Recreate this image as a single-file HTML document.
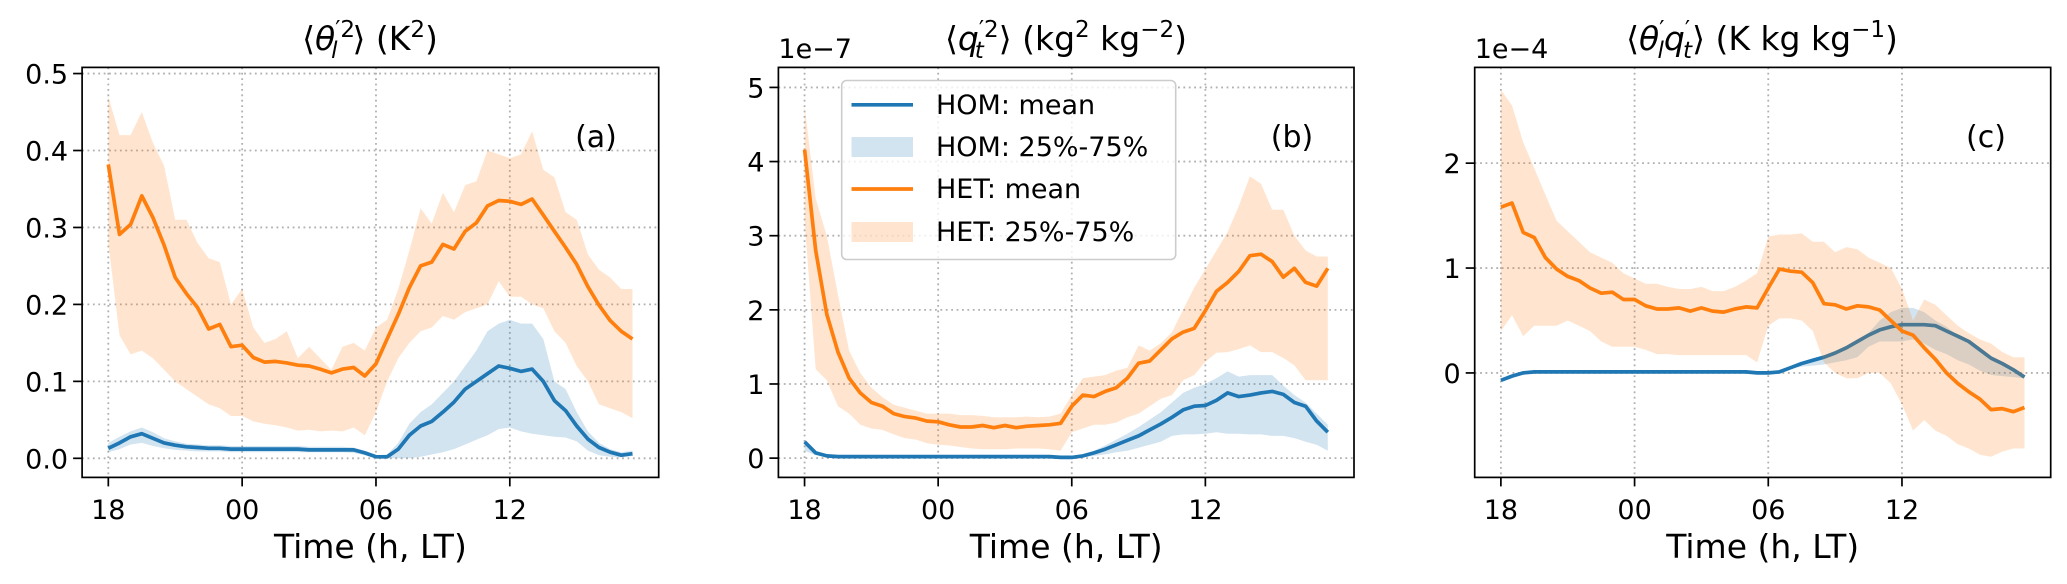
<!DOCTYPE html>
<html><head><meta charset="utf-8"><style>
html,body{margin:0;padding:0;background:#fff;}
svg{display:block;font-family:"DejaVu Sans","Liberation Sans",sans-serif;}
</style></head><body>
<svg id="fig" width="2067" height="584" viewBox="0 0 2067 584" xmlns="http://www.w3.org/2000/svg"></svg>
<script>
const times = [0,0.5,1,1.5,2,2.5,3,3.5,4,4.5,5,5.5,6,6.5,7,7.5,8,8.5,9,9.5,10,10.5,11,11.5,12,12.5,13,13.5,14,14.5,15,15.5,16,16.5,17,17.5,18,18.5,19,19.5,20,20.5,21,21.5,22,22.5,23,23.5];
const xTickHours = [0,6,12,18];
const xTickLabels = ["18","00","06","12"];

// Panel (a)
const aHetMean = [0.382,0.291,0.304,0.341,0.313,0.277,0.235,0.214,0.196,0.168,0.174,0.145,0.147,0.131,0.125,0.126,0.124,0.121,0.120,0.116,0.111,0.116,0.118,0.107,0.123,0.155,0.187,0.222,0.250,0.255,0.278,0.272,0.295,0.306,0.328,0.335,0.334,0.330,0.337,0.316,0.295,0.274,0.252,0.223,0.199,0.179,0.165,0.155];
const aHetHi = [0.47,0.42,0.42,0.45,0.41,0.38,0.31,0.31,0.28,0.26,0.255,0.2,0.22,0.17,0.15,0.155,0.165,0.13,0.145,0.13,0.115,0.145,0.15,0.14,0.17,0.18,0.22,0.27,0.325,0.305,0.345,0.32,0.355,0.36,0.4,0.395,0.39,0.395,0.425,0.375,0.365,0.32,0.31,0.265,0.245,0.235,0.22,0.22];
const aHetLo = [0.28,0.16,0.135,0.14,0.13,0.115,0.1,0.09,0.08,0.07,0.065,0.055,0.055,0.048,0.045,0.043,0.04,0.036,0.037,0.035,0.036,0.035,0.04,0.03,0.06,0.1,0.13,0.15,0.165,0.17,0.185,0.18,0.19,0.195,0.2,0.23,0.21,0.21,0.2,0.195,0.165,0.15,0.12,0.1,0.07,0.065,0.06,0.052];
const aHomMean = [0.013,0.02,0.028,0.032,0.026,0.02,0.017,0.015,0.014,0.013,0.013,0.012,0.012,0.012,0.012,0.012,0.012,0.012,0.011,0.011,0.011,0.011,0.011,0.007,0.002,0.002,0.012,0.03,0.042,0.048,0.06,0.073,0.09,0.1,0.11,0.12,0.117,0.113,0.116,0.1,0.075,0.062,0.042,0.025,0.014,0.008,0.004,0.006];
const aHomHi = [0.02,0.028,0.035,0.04,0.034,0.026,0.022,0.019,0.018,0.017,0.017,0.016,0.016,0.016,0.016,0.016,0.016,0.016,0.015,0.015,0.015,0.015,0.014,0.01,0.004,0.005,0.02,0.045,0.06,0.07,0.085,0.1,0.12,0.14,0.165,0.175,0.18,0.175,0.175,0.155,0.1,0.09,0.06,0.035,0.02,0.012,0.008,0.01];
const aHomLo = [0.008,0.012,0.018,0.02,0.016,0.013,0.011,0.01,0.009,0.009,0.009,0.008,0.008,0.008,0.008,0.008,0.008,0.008,0.008,0.008,0.008,0.008,0.007,0.004,0.0,0.0,0.0,0.0,0.002,0.005,0.008,0.012,0.018,0.024,0.03,0.038,0.04,0.035,0.032,0.03,0.028,0.027,0.022,0.01,0.004,0.002,0.001,0.003];
const aYTicks = [0,0.1,0.2,0.3,0.4,0.5];
const aYLabels = ["0.0","0.1","0.2","0.3","0.4","0.5"];

// Panel (b) (x 1e-7)
const bHetMean = [4.16,2.80,1.94,1.43,1.08,0.88,0.75,0.70,0.60,0.56,0.54,0.50,0.49,0.45,0.42,0.42,0.44,0.41,0.44,0.41,0.43,0.44,0.45,0.47,0.70,0.85,0.83,0.90,0.95,1.08,1.28,1.31,1.46,1.61,1.70,1.75,1.99,2.25,2.37,2.52,2.73,2.75,2.65,2.44,2.56,2.37,2.32,2.56];
const bHetHi = [4.75,3.5,3.0,2.2,1.45,1.15,0.95,0.82,0.72,0.68,0.64,0.6,0.6,0.6,0.58,0.58,0.57,0.55,0.55,0.55,0.56,0.55,0.56,0.6,0.85,1.08,1.1,1.12,1.18,1.22,1.52,1.45,1.55,1.7,2.0,2.3,2.55,2.8,3.05,3.4,3.8,3.7,3.35,3.35,3.0,2.8,2.72,2.72];
const bHetLo = [3.2,1.2,1.05,0.7,0.6,0.45,0.4,0.38,0.32,0.27,0.25,0.2,0.18,0.17,0.15,0.13,0.12,0.12,0.12,0.13,0.13,0.13,0.12,0.1,0.35,0.4,0.45,0.45,0.48,0.55,0.6,0.7,0.8,0.85,1.05,1.12,1.3,1.42,1.43,1.47,1.52,1.43,1.43,1.35,1.25,1.05,1.05,1.05];
const bHomMean = [0.22,0.07,0.03,0.02,0.02,0.02,0.02,0.02,0.02,0.02,0.02,0.02,0.02,0.02,0.02,0.02,0.02,0.02,0.02,0.02,0.02,0.02,0.02,0.01,0.01,0.03,0.07,0.12,0.18,0.24,0.3,0.38,0.46,0.55,0.65,0.7,0.71,0.78,0.88,0.83,0.85,0.88,0.9,0.86,0.75,0.7,0.5,0.35];
const bHomHi = [0.24,0.08,0.04,0.03,0.03,0.03,0.03,0.03,0.03,0.03,0.03,0.03,0.03,0.03,0.03,0.03,0.03,0.03,0.03,0.03,0.03,0.03,0.03,0.02,0.02,0.05,0.1,0.17,0.25,0.33,0.42,0.52,0.62,0.75,0.88,0.95,1.0,1.08,1.17,1.1,1.12,1.12,1.12,0.98,0.85,0.75,0.6,0.45];
const bHomLo = [0.1,0.04,0.02,0.01,0.01,0.01,0.01,0.01,0.01,0.01,0.01,0.01,0.01,0.01,0.01,0.01,0.01,0.01,0.01,0.01,0.01,0.01,0.01,0.0,0.0,0.01,0.03,0.05,0.08,0.1,0.14,0.18,0.22,0.3,0.32,0.32,0.33,0.35,0.33,0.33,0.32,0.32,0.3,0.3,0.27,0.22,0.18,0.1];
const bYTicks = [0,1,2,3,4,5];
const bYLabels = ["0","1","2","3","4","5"];

// Panel (c) (x 1e-4)
const cHetMean = [1.58,1.62,1.34,1.29,1.10,0.99,0.92,0.88,0.81,0.76,0.77,0.70,0.70,0.64,0.61,0.61,0.62,0.59,0.62,0.59,0.58,0.61,0.63,0.62,0.81,0.99,0.97,0.96,0.86,0.66,0.65,0.61,0.64,0.63,0.60,0.50,0.40,0.36,0.24,0.13,0.00,-0.10,-0.18,-0.25,-0.35,-0.34,-0.37,-0.33];
const cHetHi = [2.7,2.55,2.2,1.95,1.7,1.45,1.35,1.25,1.15,1.1,1.05,0.95,0.9,0.85,0.85,0.82,0.8,0.8,0.82,0.78,0.78,0.82,0.88,0.95,1.3,1.32,1.32,1.33,1.25,1.25,1.15,1.2,1.18,1.1,1.05,1.0,0.8,0.5,0.7,0.65,0.55,0.45,0.38,0.32,0.28,0.2,0.15,0.15];
const cHetLo = [0.4,0.55,0.35,0.45,0.45,0.45,0.5,0.45,0.4,0.3,0.25,0.25,0.25,0.22,0.18,0.18,0.17,0.17,0.17,0.17,0.17,0.17,0.17,0.1,0.45,0.52,0.52,0.5,0.4,0.1,0.0,-0.05,-0.05,0.0,0.0,-0.1,-0.3,-0.55,-0.45,-0.55,-0.6,-0.68,-0.72,-0.78,-0.8,-0.75,-0.72,-0.72];
const cHomMean = [-0.07,-0.03,0.0,0.01,0.01,0.01,0.01,0.01,0.01,0.01,0.01,0.01,0.01,0.01,0.01,0.01,0.01,0.01,0.01,0.01,0.01,0.01,0.01,0.0,0.0,0.01,0.05,0.09,0.12,0.15,0.19,0.24,0.3,0.36,0.41,0.44,0.46,0.46,0.46,0.45,0.4,0.35,0.3,0.22,0.14,0.09,0.03,-0.04];
const cHomHi = [-0.06,-0.02,0.005,0.015,0.015,0.015,0.015,0.015,0.015,0.015,0.015,0.015,0.015,0.015,0.015,0.015,0.015,0.015,0.015,0.015,0.015,0.015,0.015,0.005,0.005,0.02,0.06,0.1,0.14,0.17,0.2,0.25,0.3,0.38,0.5,0.58,0.62,0.62,0.58,0.5,0.44,0.36,0.3,0.22,0.15,0.1,0.05,-0.03];
const cHomLo = [-0.08,-0.04,-0.005,0.005,0.005,0.005,0.005,0.005,0.005,0.005,0.005,0.005,0.005,0.005,0.005,0.005,0.005,0.005,0.005,0.005,0.005,0.005,0.005,-0.005,-0.005,0.0,0.04,0.06,0.07,0.08,0.1,0.12,0.15,0.25,0.3,0.3,0.3,0.32,0.28,0.22,0.18,0.12,0.08,0.02,-0.02,-0.03,-0.04,-0.05];
const cYTicks = [0,1,2];
const cYLabels = ["0","1","2"];

const NS = "http://www.w3.org/2000/svg";
const svg = document.getElementById('fig');
function mk(tag, attrs, parent){
  const e = document.createElementNS(NS, tag);
  for (const k in attrs) e.setAttribute(k, attrs[k]);
  (parent||svg).appendChild(e);
  return e;
}
const BLUE = "#1f77b4", ORANGE = "#ff7f0e";

const panels = [
  {id:"a", L:82.1, R:658.7, ymin:-0.0248, ymax:0.508, hm:aHetMean, hh:aHetHi, hl:aHetLo, om:aHomMean, oh:aHomHi, ol:aHomLo, yt:aYTicks, yl:aYLabels, tagX:596, offset:null},
  {id:"b", L:778.4, R:1354, ymin:-0.26, ymax:5.27, hm:bHetMean, hh:bHetHi, hl:bHetLo, om:bHomMean, oh:bHomHi, ol:bHomLo, yt:bYTicks, yl:bYLabels, tagX:1292, offset:"1e\u22127"},
  {id:"c", L:1474.7, R:2050.7, ymin:-0.996, ymax:2.913, hm:cHetMean, hh:cHetHi, hl:cHetLo, om:cHomMean, oh:cHomHi, ol:cHomLo, yt:cYTicks, yl:cYLabels, tagX:1986, offset:"1e\u22124"}
];
const TOP = 67.4, BOT = 477.4, XMIN = -1.175, XMAX = 24.675;

panels.forEach((p) => {
  const g = mk('g', {});
  
  
  const xs = h => p.L + (h - XMIN) / (XMAX - XMIN) * (p.R - p.L);
  const ys = v => BOT - (v - p.ymin) / (p.ymax - p.ymin) * (BOT - TOP);
  const clip = mk('clipPath', {id: 'clip' + p.id}, g);
  mk('rect', {x: p.L, y: TOP, width: p.R - p.L, height: BOT - TOP}, clip);

  xTickHours.forEach((h) => {
    const l = mk('line', {x1: xs(h), x2: xs(h), y1: TOP, y2: BOT, stroke: "#b0b0b0", "stroke-width": 1.8, "stroke-dasharray": "1.8 3.6"}, g);
    
    
  });
  p.yt.forEach((v) => {
    const l = mk('line', {x1: p.L, x2: p.R, y1: ys(v), y2: ys(v), stroke: "#b0b0b0", "stroke-width": 1.8, "stroke-dasharray": "1.8 3.6"}, g);
    
    
  });

  const plot = mk('g', {"clip-path": "url(#clip" + p.id + ")"}, g);
  function band(hi, lo, color, name){
    let d = "";
    times.forEach((t, i) => { d += (i ? "L" : "M") + xs(t).toFixed(1) + "," + ys(hi[i]).toFixed(1); });
    for (let i = times.length - 1; i >= 0; i--) d += "L" + xs(times[i]).toFixed(1) + "," + ys(lo[i]).toFixed(1);
    const e = mk('path', {d: d + "Z", fill: color, "fill-opacity": 0.2, stroke: "none"}, plot);
    
    
  }
  function line(vals, color, name){
    const d = times.map((t, i) => (i ? "L" : "M") + xs(t).toFixed(1) + "," + ys(vals[i]).toFixed(1)).join("");
    const e = mk('path', {d: d, fill: "none", stroke: color, "stroke-width": 3.7, "stroke-linejoin": "round"}, plot);
    
    
  }
  band(p.oh, p.ol, BLUE, 'hom-band');
  line(p.om, BLUE, 'hom-mean-line');
  band(p.hh, p.hl, ORANGE, 'het-band');
  line(p.hm, ORANGE, 'het-mean-line');

  const fr = mk('rect', {x: p.L, y: TOP, width: p.R - p.L, height: BOT - TOP, fill: "none", stroke: "#000", "stroke-width": 1.7}, g);
  
  

  xTickHours.forEach((h, i) => {
    mk('line', {x1: xs(h), x2: xs(h), y1: BOT, y2: BOT + 9, stroke: "#000", "stroke-width": 1.7}, g);
    const t = mk('text', {x: xs(h), y: 519, "text-anchor": "middle", "font-size": 27}, g);
    t.textContent = xTickLabels[i];
    
    
  });
  p.yt.forEach((v, i) => {
    mk('line', {x1: p.L - 9, x2: p.L, y1: ys(v), y2: ys(v), stroke: "#000", "stroke-width": 1.7}, g);
    const t = mk('text', {x: p.L - 14, y: ys(v) + 10, "text-anchor": "end", "font-size": 27}, g);
    t.textContent = p.yl[i];
    
    
  });
  const xl = mk('text', {x: (p.L + p.R) / 2, y: 558, "text-anchor": "middle", "font-size": 33}, g);
  xl.textContent = "Time (h, LT)";
  
  
  const tag = mk('text', {x: p.tagX, y: 147, "text-anchor": "middle", "font-size": 30}, g);
  tag.textContent = "(" + p.id + ")";
  
  
  if (p.offset) {
    const o = mk('text', {x: p.L, y: 58, "font-size": 27}, g);
    o.textContent = p.offset;
    
    
  }
});
</script>
<svg style="position:absolute;left:0;top:0" width="2067" height="584" xmlns="http://www.w3.org/2000/svg" font-family="DejaVu Sans, Liberation Sans, sans-serif">
  <text x="370" y="50" text-anchor="middle" font-size="33">⟨<tspan font-style="italic">θ</tspan><tspan font-size="23" dy="-13">′2</tspan><tspan font-size="23" font-style="italic" dx="-24" dy="21">l</tspan><tspan dy="-8" dx="15">⟩ (K</tspan><tspan font-size="23" dy="-13">2</tspan><tspan dy="13">)</tspan></text>
  <text x="1066" y="50" text-anchor="middle" font-size="33">⟨<tspan font-style="italic">q</tspan><tspan font-size="23" dy="-13">′2</tspan><tspan font-size="23" font-style="italic" dx="-24" dy="21">t</tspan><tspan dy="-8" dx="15">⟩ (kg</tspan><tspan font-size="23" dy="-13">2</tspan><tspan dy="13"> kg</tspan><tspan font-size="23" dy="-13">−2</tspan><tspan dy="13">)</tspan></text>
  <text x="1762" y="50" text-anchor="middle" font-size="33">⟨<tspan font-style="italic">θ</tspan><tspan font-size="23" dy="-13">′</tspan><tspan font-size="23" font-style="italic" dx="-7" dy="21">l</tspan><tspan font-style="italic" dy="-8">q</tspan><tspan font-size="23" dy="-13">′</tspan><tspan font-size="23" font-style="italic" dx="-7" dy="21">t</tspan><tspan dy="-8">⟩ (K kg kg</tspan><tspan font-size="23" dy="-13">−1</tspan><tspan dy="13">)</tspan></text>
  <g>
    <rect x="841.7" y="80.5" width="334" height="179" rx="5" fill="#fff" fill-opacity="0.8" stroke="#cccccc" stroke-width="1.6"/>
    <line x1="851.5" x2="913" y1="104.8" y2="104.8" stroke="#1f77b4" stroke-width="3.7"/>
    <text x="936" y="114" font-size="27">HOM: mean</text>
    <rect x="851.5" y="137" width="61.5" height="20" fill="#1f77b4" fill-opacity="0.2"/>
    <text x="936" y="156" font-size="27">HOM: 25%-75%</text>
    <line x1="851.5" x2="913" y1="189" y2="189" stroke="#ff7f0e" stroke-width="3.7"/>
    <text x="936" y="198" font-size="27">HET: mean</text>
    <rect x="851.5" y="222" width="61.5" height="20" fill="#ff7f0e" fill-opacity="0.2"/>
    <text x="936" y="241" font-size="27">HET: 25%-75%</text>
  </g>
</svg>
</body></html>
